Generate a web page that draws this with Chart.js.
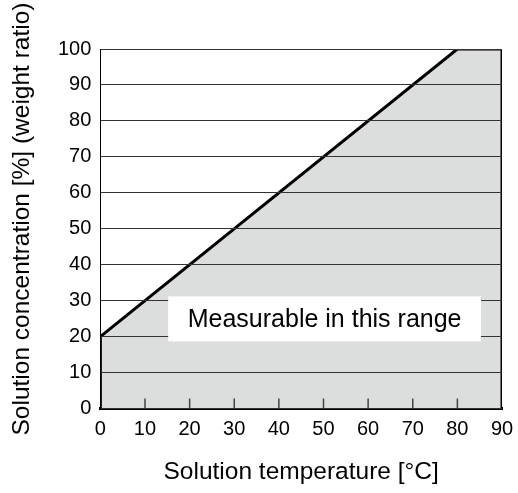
<!DOCTYPE html>
<html>
<head>
<meta charset="utf-8">
<script src="https://cdn.jsdelivr.net/npm/chart.js@4.4.1/dist/chart.umd.min.js"></script>
<style>
  html, body { margin: 0; padding: 0; background: #fff; overflow: hidden; }
  #wrap { width: 518px; height: 493px; }
</style>
</head>
<body>
<div id="wrap"><canvas id="chart"></canvas></div>
<script>
// boundary of the measurable region (temperature, concentration)
const temps = [0, 0, 80, 90, 90];
const concs = [0, 20, 100, 100, 0];
const xTicks = [0, 10, 20, 30, 40, 50, 60, 70, 80, 90];
const yTicks = [0, 10, 20, 30, 40, 50, 60, 70, 80, 90, 100];
const yTitle = 'Solution concentration [%] (weight ratio)';
const boxText = 'Measurable in this range';
// label box in data units: [xMin, xMax, yMin, yMax]
const boxRange = [15.2, 85.3, 18.7, 31.2];

const FONT = '"Liberation Sans", Arial, Helvetica, sans-serif';

const extras = {
    id: 'extras',
    afterDraw(chart) {
        const { ctx, scales: { x, y } } = chart;
        ctx.save();
        // inward ticks on the bottom axis
        ctx.strokeStyle = '#444';
        ctx.lineWidth = 1.5;
        xTicks.slice(1, -1).forEach(v => {
            const px = x.getPixelForValue(v);
            ctx.beginPath();
            ctx.moveTo(px, y.bottom);
            ctx.lineTo(px, y.bottom - 10);
            ctx.stroke();
        });
        // white label box
        const [x0, x1, y0, y1] = boxRange;
        const l = x.getPixelForValue(x0), r = x.getPixelForValue(x1);
        const t = y.getPixelForValue(y1), b = y.getPixelForValue(y0);
        ctx.fillStyle = '#fff';
        ctx.fillRect(l, t, r - l, b - t);
        ctx.fillStyle = '#000';
        ctx.font = '25px ' + FONT;
        ctx.textAlign = 'center';
        ctx.textBaseline = 'middle';
        ctx.fillText(boxText, (l + r) / 2, (t + b) / 2 + 1);
        ctx.restore();

        // y axis title, sits a little above the middle of the axis
        ctx.save();
        ctx.translate(22, 219);
        ctx.rotate(-Math.PI / 2);
        ctx.fillStyle = '#000';
        ctx.font = '24.5px ' + FONT;
        ctx.textAlign = 'center';
        ctx.textBaseline = 'middle';
        ctx.fillText(yTitle, 0, 0);
        ctx.restore();
    }
};

new Chart(document.getElementById('chart'), {
    type: 'scatter',
    data: {
        datasets: [{
            data: temps.map((t, i) => ({ x: t, y: concs[i] })),
            showLine: true,
            borderColor: '#000',
            borderWidth: 3,
            backgroundColor: '#dcdddd',
            fill: 'origin',
            pointRadius: 0,
            tension: 0,
        }]
    },
    options: {
        responsive: true,
        maintainAspectRatio: false,
        animation: false,
        layout: { padding: { top: 49, right: 0, left: 49, bottom: 6 } },
        plugins: { legend: { display: false }, tooltip: { enabled: false } },
        scales: {
            x: {
                type: 'linear',
                min: 0, max: 90,
                afterBuildTicks: s => { s.ticks = xTicks.map(v => ({ value: v })); },
                afterFit: s => { s.paddingRight = 16; },
                grid: { display: false, drawTicks: false },
                border: { display: true, color: '#000', width: 3 },
                ticks: { color: '#000', font: { family: FONT, size: 20 }, padding: 9, maxRotation: 0 },
                title: {
                    display: true,
                    text: 'Solution temperature [°C]',
                    color: '#000',
                    font: { family: FONT, size: 24.5 },
                    padding: { top: 7, bottom: 0 }
                }
            },
            y: {
                min: 0, max: 100,
                afterBuildTicks: s => { s.ticks = yTicks.map(v => ({ value: v })); },
                // grid and border above the grey fill
                grid: { color: '#333', lineWidth: 1, drawTicks: false, z: 1 },
                border: { display: true, color: '#000', width: 1, z: 1 },
                ticks: { color: '#000', font: { family: FONT, size: 20 }, padding: 9 },
                title: { display: false }
            }
        }
    },
    plugins: [extras]
});
</script>
</body>
</html>
